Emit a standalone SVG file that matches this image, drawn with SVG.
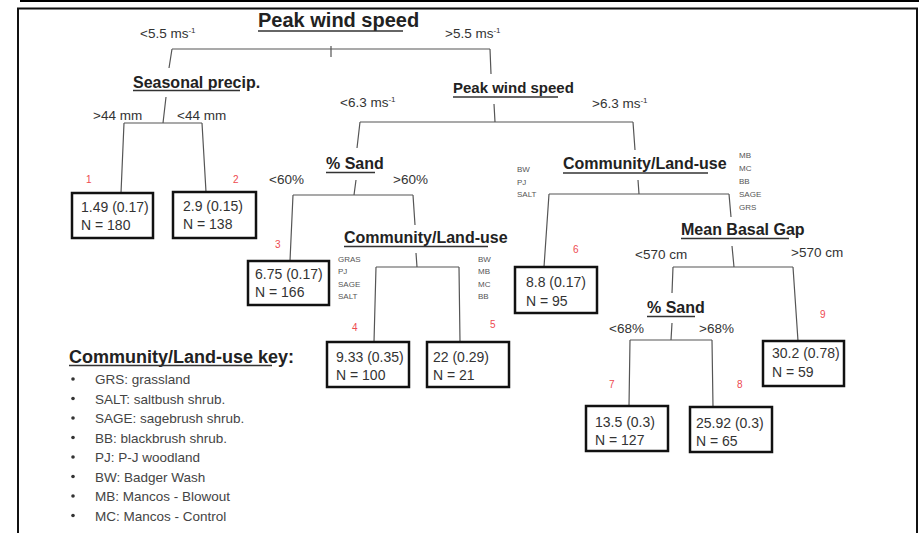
<svg xmlns="http://www.w3.org/2000/svg" width="919" height="533" viewBox="0 0 919 533">
<style>
text{font-family:"Liberation Sans",Arial,sans-serif;}
.hd{font-weight:bold;font-size:16px;fill:#222;}
.ul{stroke:#333;stroke-width:1.4;}
.lb{font-size:13.5px;fill:#333;}
.sup{font-size:8px;}
.sm{font-size:8px;fill:#555;}
.box rect{fill:#fff;stroke:#111;stroke-width:2.5;}
.box text{font-size:14px;fill:#333;}
.box text.red{font-size:10px;fill:#ee4a4f;}
.conn path{fill:none;stroke:#555;stroke-width:1.2;}
.key text{font-size:13.5px;fill:#444;}
.key circle{fill:#333;}
</style>
<rect width="919" height="533" fill="#fff"/>
<!-- frame -->
<rect x="20" y="0" width="899" height="2" fill="#000"/>
<path d="M18,533 V8.5 H917 V533" fill="none" stroke="#111" stroke-width="2"/>

<g id="connectors" class="conn">
<path d="M331,46 L331,57 M172,49 H490 M172,49 L169,68 M490,49 L491,74"/>
<path d="M166,97 L163,123 M124,123 H202 M124,123 L121,193 M202,123 L206,192"/>
<path d="M494,104 L495,122 M360,122 H633 M360,122 L357,148 M633,122 L635,150"/>
<path d="M356,180 L354,195 M293,195 H413 M293,195 L290,261 M413,195 L415,225"/>
<path d="M416,253 L417,267 M376,267 H459 M376,267 L374,342 M459,267 L460,342"/>
<path d="M638,180 L639,194 M549,194 H729 M549,194 L544,267 M729,194 L731,217"/>
<path d="M732,246 L734,267 M673,267 H793 M673,267 L672,293 M793,267 L798,341"/>
<path d="M672,323 L671,340 M630,340 H712 M630,340 L629,406 M712,340 L713,407"/>
</g>

<g id="split-root">
<text x="258" y="27" class="hd" style="font-size:20px">Peak wind speed</text>
<line class="ul" x1="258" y1="31" x2="403" y2="31"/>
<text x="140" y="38" class="lb">&lt;5.5 ms<tspan class="sup" dy="-5">-1</tspan></text>
<text x="445" y="38" class="lb">&gt;5.5 ms<tspan class="sup" dy="-5">-1</tspan></text>
</g>

<g id="split-precip">
<text x="133" y="88" class="hd">Seasonal precip.</text>
<line class="ul" x1="133" y1="90.5" x2="240" y2="90.5"/>
<text x="93" y="120" class="lb">&gt;44 mm</text>
<text x="177" y="120" class="lb">&lt;44 mm</text>
</g>

<g id="split-wind2">
<text x="453" y="93" class="hd" style="font-size:15px">Peak wind speed</text>
<line class="ul" x1="453" y1="97" x2="558" y2="97"/>
<text x="340" y="107" class="lb">&lt;6.3 ms<tspan class="sup" dy="-5">-1</tspan></text>
<text x="592" y="108" class="lb">&gt;6.3 ms<tspan class="sup" dy="-5">-1</tspan></text>
</g>

<g id="split-sand1">
<text x="326" y="169" class="hd">% Sand</text>
<line class="ul" x1="326" y1="172.5" x2="375" y2="172.5"/>
<text x="269" y="184" class="lb">&lt;60%</text>
<text x="393" y="184" class="lb">&gt;60%</text>
</g>

<g id="split-clu1">
<text x="344" y="243" class="hd">Community/Land-use</text>
<line class="ul" x1="344" y1="246.5" x2="488" y2="246.5"/>
<text x="338" y="262" class="sm">GRAS</text>
<text x="338" y="274" class="sm">PJ</text>
<text x="338" y="286.5" class="sm">SAGE</text>
<text x="338" y="299" class="sm">SALT</text>
<text x="478" y="262" class="sm">BW</text>
<text x="478" y="274" class="sm">MB</text>
<text x="478" y="286.5" class="sm">MC</text>
<text x="478" y="299" class="sm">BB</text>
</g>

<g id="split-clu2">
<text x="563" y="169" class="hd">Community/Land-use</text>
<line class="ul" x1="563" y1="173" x2="708" y2="173"/>
<text x="517" y="172" class="sm">BW</text>
<text x="517" y="184.5" class="sm">PJ</text>
<text x="517" y="197" class="sm">SALT</text>
<text x="739" y="158" class="sm">MB</text>
<text x="739" y="171" class="sm">MC</text>
<text x="739" y="184" class="sm">BB</text>
<text x="739" y="197" class="sm">SAGE</text>
<text x="739" y="210" class="sm">GRS</text>
</g>

<g id="split-gap">
<text x="681" y="235" class="hd">Mean Basal Gap</text>
<line class="ul" x1="681" y1="238.5" x2="789" y2="238.5"/>
<text x="635" y="259" class="lb">&lt;570 cm</text>
<text x="791" y="257" class="lb">&gt;570 cm</text>
</g>

<g id="split-sand2">
<text x="647" y="313" class="hd">% Sand</text>
<line class="ul" x1="647" y1="316.5" x2="695" y2="316.5"/>
<text x="609" y="333" class="lb">&lt;68%</text>
<text x="699" y="333" class="lb">&gt;68%</text>
</g>

<g id="leaf1" class="box">
<text x="86" y="183" class="red">1</text>
<rect x="72" y="193" width="81" height="45"/>
<text x="81" y="212">1.49 (0.17)</text>
<text x="81" y="230">N = 180</text>
</g>
<g id="leaf2" class="box">
<text x="233" y="183" class="red">2</text>
<rect x="173" y="192" width="83" height="46"/>
<text x="183" y="211">2.9 (0.15)</text>
<text x="183" y="229">N = 138</text>
</g>
<g id="leaf3" class="box">
<text x="275" y="248" class="red">3</text>
<rect x="248" y="261" width="81" height="44"/>
<text x="255" y="279">6.75 (0.17)</text>
<text x="255" y="297">N = 166</text>
</g>
<g id="leaf4" class="box">
<text x="352" y="331" class="red">4</text>
<rect x="327" y="342" width="82" height="45"/>
<text x="336" y="362">9.33 (0.35)</text>
<text x="336" y="380">N = 100</text>
</g>
<g id="leaf5" class="box">
<text x="490" y="328" class="red">5</text>
<rect x="427" y="342" width="82" height="45"/>
<text x="433" y="362">22 (0.29)</text>
<text x="433" y="380">N = 21</text>
</g>
<g id="leaf6" class="box">
<text x="573" y="253" class="red">6</text>
<rect x="515" y="267" width="82" height="46"/>
<text x="526" y="287">8.8 (0.17)</text>
<text x="526" y="306">N = 95</text>
</g>
<g id="leaf7" class="box">
<text x="609" y="388" class="red">7</text>
<rect x="586" y="406" width="82" height="45"/>
<text x="595" y="427">13.5 (0.3)</text>
<text x="595" y="445">N = 127</text>
</g>
<g id="leaf8" class="box">
<text x="737" y="388" class="red">8</text>
<rect x="690" y="407" width="82" height="45"/>
<text x="696" y="428">25.92 (0.3)</text>
<text x="696" y="446">N = 65</text>
</g>
<g id="leaf9" class="box">
<text x="820" y="318" class="red">9</text>
<rect x="763" y="341" width="81" height="45"/>
<text x="772" y="358">30.2 (0.78)</text>
<text x="772" y="377">N = 59</text>
</g>

<g id="key" class="key">
<text x="69" y="363" class="hd" style="font-size:18px;fill:#222">Community/Land-use key:</text>
<line class="ul" x1="69" y1="365.5" x2="272" y2="365.5"/>
<circle cx="73" cy="379" r="1.8"/><text x="95" y="384">GRS: grassland</text>
<circle cx="73" cy="398.5" r="1.8"/><text x="95" y="403.5">SALT: saltbush shrub.</text>
<circle cx="73" cy="418" r="1.8"/><text x="95" y="423">SAGE: sagebrush shrub.</text>
<circle cx="73" cy="437.5" r="1.8"/><text x="95" y="442.5">BB: blackbrush shrub.</text>
<circle cx="73" cy="457" r="1.8"/><text x="95" y="462">PJ: P-J woodland</text>
<circle cx="73" cy="476.5" r="1.8"/><text x="95" y="481.5">BW: Badger Wash</text>
<circle cx="73" cy="496" r="1.8"/><text x="95" y="501">MB: Mancos - Blowout</text>
<circle cx="73" cy="515.5" r="1.8"/><text x="95" y="520.5">MC: Mancos - Control</text>
</g>
</svg>
